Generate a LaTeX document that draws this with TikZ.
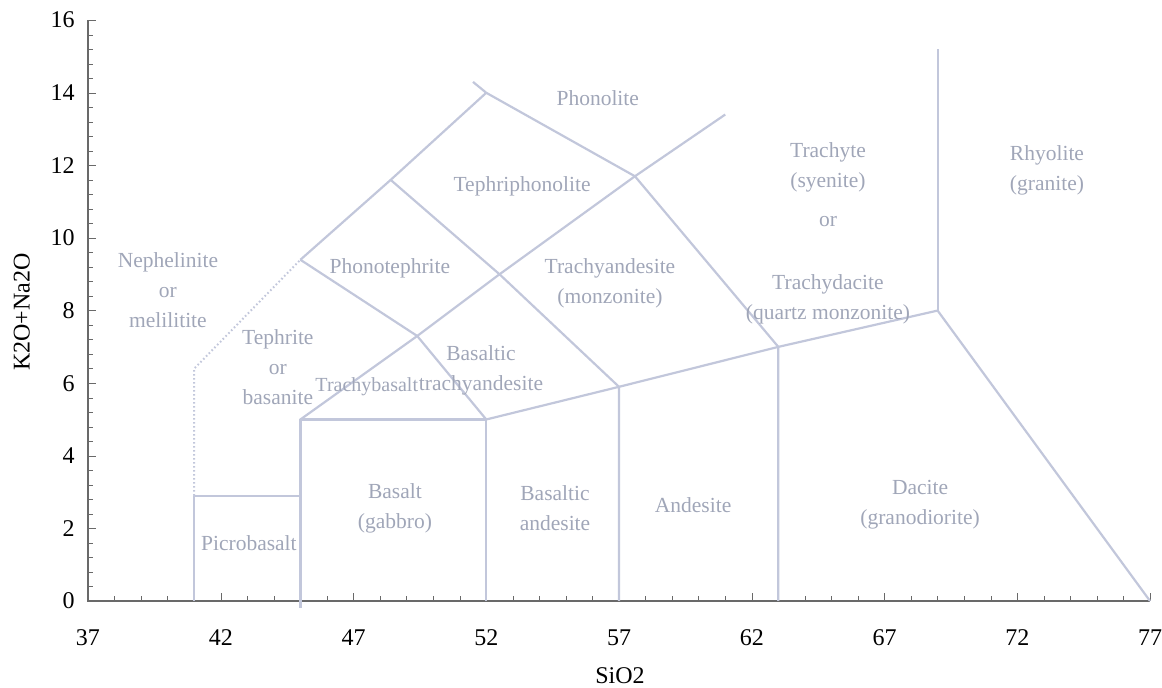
\documentclass[tikz,border=0pt]{standalone}
\usepackage{fontspec}
\setmainfont{Liberation Serif}
\usepackage{tikz}
\definecolor{fieldline}{RGB}{194,199,219}
\definecolor{fieldtext}{RGB}{160,166,184}
\definecolor{axisgrey}{RGB}{105,105,105}

\begin{document}
\begin{tikzpicture}[x=26.55pt, y=36.3pt,
        field/.style={line width=2.2pt, draw=fieldline, line join=round},
        rock/.style={text=fieldtext, align=center, inner sep=0pt, font=\fontsize{21.5}{30}\selectfont},
        num/.style={inner sep=0pt, font=\fontsize{24}{28}\selectfont}]
        \useasboundingbox (33.686,-2.397) rectangle (77.452,16.556);
        \draw[axisgrey, line width=1.1pt] (37,16) -- (37,0) -- (77,0);
        \foreach \i in {0,...,40} \draw[axisgrey] (37,\i*0.4) -- ++(5pt,0);
        \foreach \i in {0,...,40} \draw[axisgrey] (37+\i,0) -- ++(0,5pt);
        \foreach \y in {0,2,...,16} {
            \draw[axisgrey] (37,\y) -- ++(8pt,0);
            \node[num, anchor=east] (ylab\y) at (36.5,\y) {\y};
        }
        \foreach \x in {37,42,...,77} {
            \draw[axisgrey] (\x,0) -- ++(0,8pt);
            \node[num] (xlab\x) at (\x,-1.02) {\x};
        }
        \node[num] (xtitle) at (57.04,-2.07) {SiO2};
        \node[num, rotate=90] (ytitle) at (34.51,7.96) {K2O+Na2O};

        \coordinate (p0) at (41,0);
        \coordinate (p1) at (41,2.9);
        \coordinate (p2) at (45,2.9);
        \coordinate (b0) at (45,-0.2);
        \coordinate (b1) at (45,5);
        \coordinate (b2) at (52,5);
        \coordinate (b3) at (52,0);
        \coordinate (ba) at (57,5.9);
        \coordinate (ba0) at (57,0);
        \coordinate (an) at (63,7);
        \coordinate (an0) at (63,0);
        \coordinate (da) at (69,8);
        \coordinate (da0) at (77,0);
        \coordinate (rh) at (69,15.2);
        \coordinate (te) at (41,6.4);
        \coordinate (pt) at (45,9.4);
        \coordinate (tp) at (48.4,11.6);
        \coordinate (ph) at (52,14);
        \coordinate (phx) at (51.5,14.3);
        \coordinate (tb) at (49.4,7.3);
        \coordinate (bt) at (52.5,9.0);
        \coordinate (ty) at (57.6,11.7);
        \coordinate (tyx) at (61,13.4);

        \draw[field] (p0) -- (p1) -- (p2);
        \draw[field] (b0) -- (b1) -- (b2) -- (b3);
        \draw[field] (b2) -- (ba) -- (ba0);
        \draw[field] (ba) -- (an) -- (an0);
        \draw[field] (an) -- (da) -- (da0);
        \draw[field] (da) -- (rh);
        \draw[field, line width=2pt, dash pattern=on 1.6pt off 2.4pt] (p1) -- (te) -- (pt);
        \draw[field] (pt) -- (tp) -- (ph);
        \draw[field] (pt) -- (tb) -- (b2);
        \draw[field] (tp) -- (bt) -- (ba);
        \draw[field] (phx) -- (ph) -- (ty) -- (an);
        \draw[field] (b1) -- (tb) -- (bt) -- (ty) -- (tyx);

        \node[rock] (phonolite) at (56.2,13.86) {Phonolite};
        \node[rock] (tephriphon) at (53.35,11.43) {Tephriphonolite};
        \node[rock] (phonoteph) at (48.37,9.17) {Phonotephrite};
        \node[rock] (nephelinite) at (40.01,8.57) {Nephelinite\\or\\melilitite};
        \node[rock] (tephrite) at (44.15,6.45) {Tephrite\\or\\basanite};
        \node[rock, font=\fontsize{20}{24}\selectfont] (trachybas) at (47.5,5.9) {Trachybasalt};
        \node[rock] (bastrachy) at (51.8,6.36) {Basaltic\\trachyandesite};
        \node[rock] (trachyand) at (56.66,8.76) {Trachyandesite\\(monzonite)};
        \node[rock] (trachyte) at (64.87,11.95) {Trachyte\\(syenite)};
        \node[rock] (trachyor) at (64.87,10.45) {or};
        \node[rock] (trachydac) at (64.87,8.3) {Trachydacite\\(quartz monzonite)};
        \node[rock] (rhyolite) at (73.12,11.87) {Rhyolite\\(granite)};
        \node[rock] (basalt) at (48.56,2.56) {Basalt\\(gabbro)};
        \node[rock] (basand) at (54.59,2.56) {Basaltic\\andesite};
        \node[rock] (andesite) at (59.79,2.64) {Andesite};
        \node[rock] (dacite) at (68.34,2.64) {Dacite\\(granodiorite)};
        \node[rock] (picro) at (43.06,1.6) {Picrobasalt};
        \end{tikzpicture}
\end{document}
